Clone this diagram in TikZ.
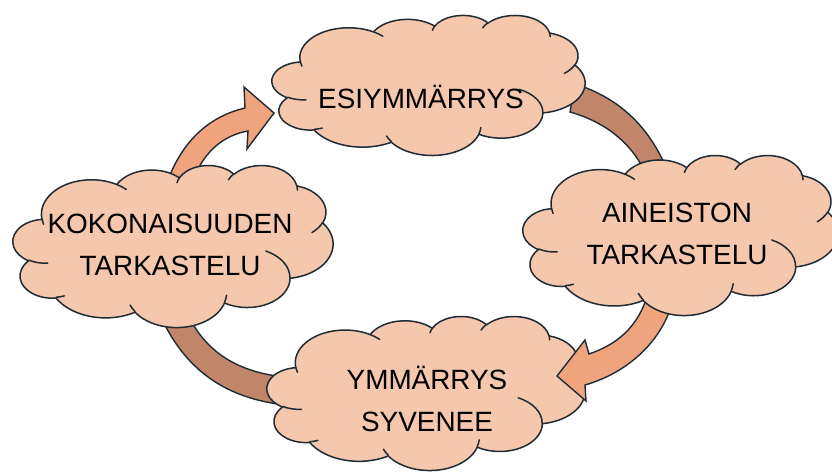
\documentclass[tikz,border=0pt]{standalone}
\usepackage{fontspec}
\setmainfont{Liberation Sans}
\definecolor{puff}{HTML}{F5C7AC}
\definecolor{arrlight}{HTML}{EFA47E}
\definecolor{arrdark}{HTML}{C1866A}
\definecolor{ink}{HTML}{1F2B35}
\tikzset{
  % elliptic arc given by radii, start angle and sweep, angles measured
  % from the centre (converted to parametric angles)
  lobe/.style n args={4}{insert path={
    arc[x radius=#1, y radius=#2,
        start angle={atan2(#1*sin(#3),#2*cos(#3))},
        delta angle={mod(atan2(#1*sin(#3+#4),#2*cos(#3+#4))
                     -atan2(#1*sin(#3),#2*cos(#3))-(#4)+1260,360)-180+(#4)}]}},
  cloudbody/.style={fill=puff, draw=ink, line width=1.5bp, line join=round},
  crease/.style={draw=ink, line width=1.5bp, line cap=round},
  caption/.style={font=\fontsize{28}{42}\selectfont, align=center, text=black},
  bandlight/.style={fill=arrlight, draw=ink, line width=1.4bp, line join=miter},
  banddark/.style={fill=arrdark, draw=ink, line width=1.4bp},
}
% cloud outline in a 43.2 x 43.2 box, placed at #1,#2 with size #3 x #4
\newcommand\cloudat[4]{%
  \begin{scope}[shift={(#1,#2)}, xscale=#3/43.2, yscale=#4/43.2]
    \path[cloudbody] (3.9,14.37)
      [lobe={6.753}{9.19}{-190.4875}{123.7805}]
      [lobe={5.333}{7.267}{-144.1024}{89.9452}]
      [lobe={4.365}{5.945}{-145.8079}{99.7230}]
      [lobe={4.857}{6.595}{-130.9861}{117.2417}]
      [lobe={5.333}{7.273}{-78.7089}{109.0269}]
      [lobe={6.775}{9.22}{-46.2673}{130.2690}]
      [lobe={5.785}{7.867}{0.6250}{114.0333}]
      [lobe={6.752}{9.215}{22.4516}{115.1726}]
      [lobe={7.72}{10.543}{66.2426}{75.7110}]
      [lobe={4.36}{5.918}{-274.9421}{146.7356}]
      [lobe={4.345}{5.945}{-246.8285}{152.5189}] -- cycle;
    \path[crease]
      (4.693,26.177) [lobe={4.345}{5.945}{86.7420}{26.4295}]
      (6.928,34.899) [lobe={4.36}{5.918}{73.6105}{11.4475}]
      (16.478,39.09) [lobe={6.752}{9.215}{137.6242}{14.0811}]
      (28.827,34.751) [lobe={6.752}{9.215}{6.4533}{15.9984}]
      (34.129,22.954) [lobe={5.785}{7.867}{-70.2924}{70.9174}]
      (41.798,15.354) [lobe={5.333}{7.273}{30.3180}{27.7515}]
      (38.324,5.426) [lobe={4.857}{6.595}{-13.7443}{14.8589}]
      (29.078,3.952) [lobe={4.857}{6.595}{-149.1815}{18.1954}]
      (22.141,4.72) [lobe={4.365}{5.945}{-163.4943}{17.6864}]
      (14.0,5.192) [lobe={6.753}{9.19}{-66.7070}{12.3194}]
      (4.127,15.789) [lobe={6.753}{9.19}{157.6544}{11.8582}];
  \end{scope}}
\begin{document}
\begin{tikzpicture}[x=1bp, y=-1bp]
\useasboundingbox (0,0) rectangle (832,473);
\clip (0,0) rectangle (832,473);

% dark bands, ends tucked under the clouds
\path[banddark] (575,84) .. controls (620,98) and (650,128) .. (667,170)
  -- (644,170) .. controls (630,142) and (605,122) .. (570,112) -- cycle;
\path[banddark] (160,315) .. controls (185,370) and (225,398) .. (285,405)
  -- (285,377) .. controls (235,372) and (205,350) .. (188,315) -- cycle;

% target clouds
\cloudat{272}{15}{313}{140}
\cloudat{267}{316}{318}{154}

% light arrows
\path[bandlight] (168,180) .. controls (185,135) and (215,115) .. (245,108)
  -- (244,87) -- (274,113) -- (247,149) -- (248,131)
  .. controls (225,135) and (205,150) .. (194,178) -- cycle;
\path[bandlight] (646,300) .. controls (635,330) and (615,345) .. (589,354)
  -- (585,340) -- (557,376) -- (586,401) -- (585,385)
  .. controls (620,375) and (655,350) .. (670,310) -- cycle;

% source clouds
\cloudat{13}{165}{320}{162}
\cloudat{523}{155}{315}{160}

% captions
\node[caption] (pre) at (421,97) {ESIYMMÄRRYS};
\node[caption] (whole) at (170,245) {KOKONAISUUDEN\\TARKASTELU};
\node[caption] (data) at (677,234) {AINEISTON\\TARKASTELU};
\node[caption] (deep) at (427,399) {YMMÄRRYS\\SYVENEE};
\end{tikzpicture}
\end{document}
